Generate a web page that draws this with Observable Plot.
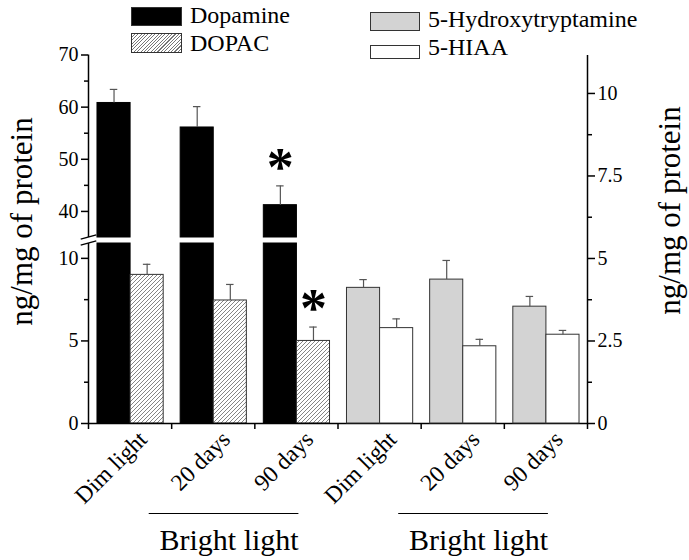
<!DOCTYPE html>
<html><head><meta charset="utf-8">
<script src="https://cdn.jsdelivr.net/npm/d3@7"></script>
<script src="https://cdn.jsdelivr.net/npm/@observablehq/plot@0.6"></script>
<style>
body{margin:0;background:#fff;}
#chart{position:relative;width:689px;height:560px;font-family:"Liberation Serif","Times New Roman",serif;}
#chart svg{position:absolute;left:0;top:0;}
#chart svg text{font-family:"Liberation Serif","Times New Roman",serif !important;}
.lg{position:absolute;font-size:24px;line-height:24px;color:#000;white-space:nowrap;font-family:"Liberation Serif","Times New Roman",serif;}
.sw{position:absolute;box-sizing:border-box;border:1px solid #333;}
</style></head><body><div id="chart"></div>
<script>
// ---- data ----
const groups = ["Dim light", "20 days", "90 days", "Dim light", "20 days", "90 days"];
const seriesNames = ["Dopamine", "DOPAC", "5-Hydroxytryptamine", "5-HIAA"];
const dopamine = [60.8, 56.1, 41.2];
const dopamineSem = [2.6, 4.0, 3.7];
const dopac = [9.0, 7.45, 5.0];
const dopacSem = [0.64, 0.97, 0.84];
const serotonin = [4.11, 4.36, 3.54];
const serotoninSem = [0.25, 0.58, 0.31];
const hiaa = [2.89, 2.34, 2.69];
const hiaaSem = [0.28, 0.21, 0.13];
const dopamineSig = [false, false, true];
const dopacSig = [false, false, true];
const leftTicksLow = [0, 5, 10];
const leftMinorLow = [2.5, 7.5];
const leftTicksHigh = [40, 50, 60, 70];
const leftMinorHigh = [45, 55, 65];
const rightTicks = [0, 2.5, 5, 7.5, 10];
const rightMinor = [1.25, 3.75, 6.25, 8.75];
const groupEdges = [0, 1, 2, 3, 4, 5, 6];
const brackets = [{from: 1, to: 2, label: "Bright light"}, {from: 4, to: 5, label: "Bright light"}];
const axisTitle = "ng/mg of protein";

// ---- scale constants ----
const breakLow = 10.9, breakHigh = 35, leftTop = 70, rightTop = 11.15;
const W = 689, H = 560;
const mL = 88, mR = 102, mT = 54, mB = 137;
const PAD = 0.108, BW = 0.398;
const FONT = "Liberation Serif";

const rows = (vals, sems, sig, name, slot, offset) => vals.map((v, i) => ({g: i + offset, slot, series: name, value: v, sem: sems[i], sig: sig ? sig[i] : false}));
const dopaRows = rows(dopamine, dopamineSem, dopamineSig, "Dopamine", 0, 0);
const dopacRows = rows(dopac, dopacSem, dopacSig, "DOPAC", 1, 0);
const htRows = rows(serotonin, serotoninSem, null, "5-Hydroxytryptamine", 0, 3);
const hiaaRows = rows(hiaa, hiaaSem, null, "5-HIAA", 1, 3);
const leftRows = dopaRows.concat(dopacRows);
const rightRows = htRows.concat(hiaaRows);

const X1 = d => d.g + PAD + d.slot * BW;
const X2 = d => d.g + PAD + (d.slot + 1) * BW;
const XC = d => d.g + PAD + (d.slot + 0.5) * BW;
const TOP = d => d.value + d.sem;

const slash = {draw(ctx) { ctx.moveTo(-7.8, 2.2); ctx.lineTo(7.8, -2.2); }};

function errorMarks(data) {
  return [
    Plot.ruleX(data, {x: XC, y1: d => d.value, y2: TOP, stroke: "#555", strokeWidth: 1.2}),
    Plot.ruleY(data, {y: TOP, x1: d => XC(d) - 0.045, x2: d => XC(d) + 0.045, stroke: "#555", strokeWidth: 1.2})
  ];
}

const baseStyle = {background: "transparent", fontFamily: FONT, fontSize: "20px", color: "#000", overflow: "visible"};

// ---- left plot (broken axis) ----
const left = Plot.plot({
  width: W, height: H,
  marginLeft: mL, marginRight: mR, marginTop: mT, marginBottom: mB,
  style: baseStyle,
  x: {type: "linear", domain: [0, 6], range: [mL, W - mR], axis: null},
  y: {type: "linear", domain: [0, breakLow, breakHigh, leftTop], range: [423, 243, 237, 54.5], axis: null},
  marks: [
    Plot.rect(dopaRows, {x1: X1, x2: X2, y1: () => 0, y2: d => Math.min(d.value, breakLow), fill: "#000", stroke: "#000", strokeWidth: 1}),
    Plot.rect(dopaRows, {x1: X1, x2: X2, y1: () => breakHigh, y2: d => d.value, fill: "#000", stroke: "#000", strokeWidth: 1}),
    Plot.rect(dopacRows, {x1: X1, x2: X2, y1: () => 0, y2: d => d.value, fill: "url(#hatch)", stroke: "#333", strokeWidth: 1}),
    ...errorMarks(leftRows),
    Plot.text(leftRows.filter(d => d.sig), {x: XC, y: TOP, text: () => "*", fontSize: 54, fontWeight: "bold", fontFamily: FONT, dy: -18, fill: "#000"}),
    Plot.ruleX([[0, breakLow], [breakHigh, leftTop]], {x: () => 0, y1: d => d[0], y2: d => d[1], stroke: "#000", strokeWidth: 1.5}),
    Plot.dot([breakLow, breakHigh], {x: () => 0, y: d => d, symbol: slash, r: 8, stroke: "#000", strokeWidth: 1.4, fill: "none", dy: -0.5}),
    Plot.axisY(leftTicksLow.concat(leftTicksHigh), {anchor: "left", tickSize: 7, tickPadding: 3, fontSize: 20, fontFamily: FONT, strokeWidth: 1.5, tickFormat: d => String(d), label: null}),
    Plot.axisY(leftMinorLow.concat(leftMinorHigh), {anchor: "left", tickSize: 4, strokeWidth: 1.5, tickFormat: () => "", label: null}),
    Plot.ruleY([0], {x1: () => 0, x2: () => 6, stroke: "#000", strokeWidth: 1.5}),
    Plot.axisX(groupEdges, {anchor: "bottom", tickSize: 6, strokeWidth: 1.5, tickFormat: () => "", label: null}),
    Plot.text(groups, {x: (d, i) => i + 0.5, y: () => 0, text: d => d, rotate: -45, textAnchor: "end", fontSize: 23.5, fontFamily: FONT, dx: 13, dy: 12}),
    Plot.ruleY(brackets, {y: () => 0, x1: d => d.from - 0.27, x2: d => d.to + 0.53, dy: 90, stroke: "#000", strokeWidth: 1}),
    Plot.text(brackets, {x: d => (d.from + d.to) / 2 + 0.19, y: () => 0, text: d => d.label, fontSize: 30, fontFamily: FONT, dy: 117}),
    Plot.text([axisTitle], {frameAnchor: "left", text: d => d, rotate: -90, textAnchor: "middle", fontSize: 31, fontFamily: FONT, dx: -66, dy: -17.5})
  ]
});

const ns = "http://www.w3.org/2000/svg";
const defs = document.createElementNS(ns, "defs");
defs.innerHTML = '<pattern id="hatch" patternUnits="userSpaceOnUse" width="4" height="4"><rect width="4" height="4" fill="#fff"/><path d="M-1,1 l2,-2 M0,4 l4,-4 M3,5 l2,-2" stroke="#666" stroke-width="0.8"/></pattern>';
left.insertBefore(defs, left.firstChild);

// ---- right plot (5-HT axis) ----
const right = Plot.plot({
  width: W, height: H,
  marginLeft: mL, marginRight: mR, marginTop: mT, marginBottom: mB,
  style: baseStyle,
  x: {type: "linear", domain: [0, 6], range: [mL, W - mR], axis: null},
  y: {type: "linear", domain: [0, rightTop], range: [423, 55], axis: null},
  marks: [
    Plot.rect(htRows, {x1: X1, x2: X2, y1: () => 0, y2: d => d.value, fill: "#d3d3d3", stroke: "#333", strokeWidth: 1}),
    Plot.rect(hiaaRows, {x1: X1, x2: X2, y1: () => 0, y2: d => d.value, fill: "#fff", stroke: "#333", strokeWidth: 1}),
    ...errorMarks(rightRows),
    Plot.ruleX([[0, rightTop]], {x: () => 6, y1: d => d[0], y2: d => d[1], stroke: "#000", strokeWidth: 1.5}),
    Plot.axisY(rightTicks, {anchor: "right", tickSize: 7, tickPadding: 3, fontSize: 20, fontFamily: FONT, strokeWidth: 1.5, tickFormat: d => String(d), label: null}),
    Plot.axisY(rightMinor, {anchor: "right", tickSize: 4, strokeWidth: 1.5, tickFormat: () => "", label: null}),
    Plot.text([axisTitle], {frameAnchor: "right", text: d => d, rotate: -90, textAnchor: "middle", fontSize: 31, fontFamily: FONT, dx: 83, dy: -28.5})
  ]
});

const chart = document.getElementById("chart");
chart.appendChild(left);
chart.appendChild(right);

// ---- legend ----
const legendItems = [
  {name: seriesNames[0], sx: 131, sy: 7, sw: 51, sh: 19, bg: "#000", tx: 190, base: 23},
  {name: seriesNames[1], sx: 131, sy: 33, sw: 51, sh: 20, bg: "repeating-linear-gradient(135deg, #fff 0px, #fff 1.6px, #777 1.6px, #777 2.4px)", tx: 190, base: 51},
  {name: seriesNames[2], sx: 370, sy: 12, sw: 50, sh: 19, bg: "#d3d3d3", tx: 428, base: 27},
  {name: seriesNames[3], sx: 370, sy: 45, sw: 50, sh: 14, bg: "#fff", tx: 428, base: 55}
];
for (const it of legendItems) {
  const s = document.createElement("div");
  s.className = "sw";
  Object.assign(s.style, {left: it.sx + "px", top: it.sy + "px", width: it.sw + "px", height: it.sh + "px", background: it.bg});
  chart.appendChild(s);
  const t = document.createElement("div");
  t.className = "lg";
  t.textContent = it.name;
  Object.assign(t.style, {left: it.tx + "px", top: (it.base - 20) + "px"});
  chart.appendChild(t);
}
</script>
</body></html>
